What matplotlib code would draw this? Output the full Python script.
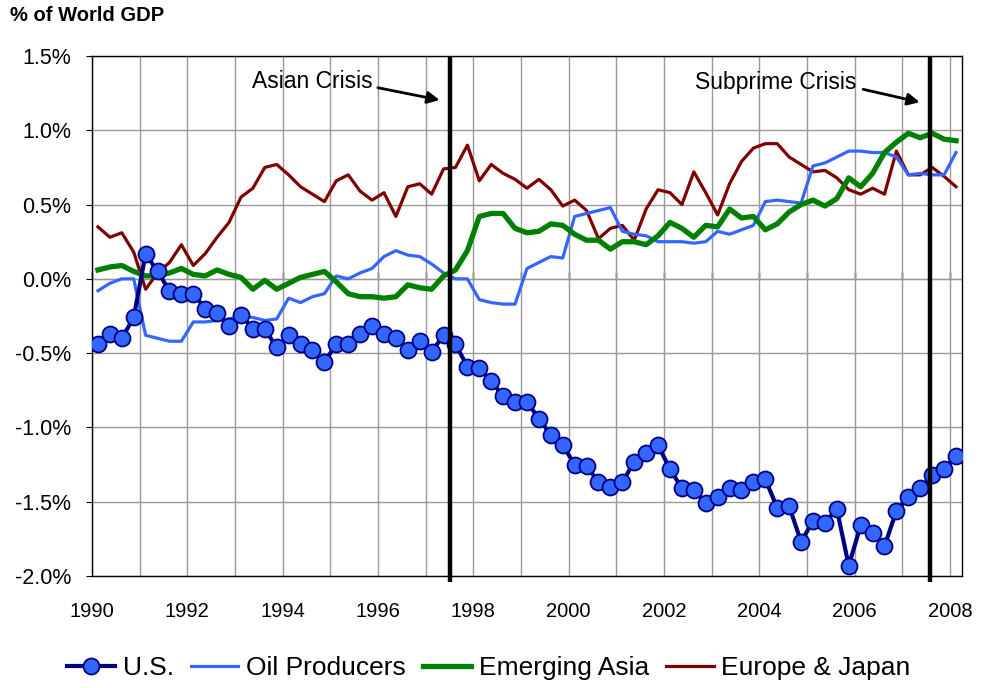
import matplotlib
matplotlib.use("Agg")
import matplotlib.pyplot as plt
import numpy as np
import pandas as pd

plt.rcParams["font.family"] = ["Liberation Sans", "DejaVu Sans"]

# ---------------------------------------------------------------------------
# Data: quarterly current account balances, % of world GDP (1990Q1 - 2008Q1)
# ---------------------------------------------------------------------------
quarters = pd.period_range("1990Q1", "2008Q1", freq="Q")

us = [
    -0.44, -0.37, -0.40, -0.26, 0.17, 0.05, -0.08, -0.10, -0.10, -0.20,
    -0.23, -0.32, -0.24, -0.34, -0.34, -0.46, -0.38, -0.44, -0.48, -0.56,
    -0.44, -0.44, -0.37, -0.32, -0.37, -0.40, -0.48, -0.42, -0.49, -0.38,
    -0.44, -0.59, -0.60, -0.69, -0.79, -0.83, -0.83, -0.94, -1.05, -1.12,
    -1.25, -1.26, -1.37, -1.40, -1.37, -1.23, -1.17, -1.12, -1.28, -1.41,
    -1.42, -1.51, -1.47, -1.41, -1.42, -1.37, -1.35, -1.54, -1.53, -1.77,
    -1.63, -1.64, -1.55, -1.93, -1.66, -1.71, -1.80, -1.56, -1.47, -1.41,
    -1.32, -1.28, -1.19,
]

oil_producers = [
    -0.08, -0.03, 0.00, 0.00, -0.38, -0.40, -0.42, -0.42, -0.29, -0.29,
    -0.28, -0.27, -0.25, -0.26, -0.28, -0.27, -0.13, -0.16, -0.12, -0.10,
    0.02, 0.00, 0.04, 0.07, 0.15, 0.19, 0.16, 0.15, 0.10, 0.04,
    0.00, 0.00, -0.14, -0.16, -0.17, -0.17, 0.07, 0.11, 0.15, 0.14,
    0.42, 0.44, 0.46, 0.48, 0.32, 0.30, 0.29, 0.25, 0.25, 0.25,
    0.24, 0.25, 0.32, 0.30, 0.33, 0.36, 0.52, 0.53, 0.52, 0.51,
    0.76, 0.78, 0.82, 0.86, 0.86, 0.85, 0.85, 0.82, 0.70, 0.71,
    0.70, 0.70, 0.85,
]

emerging_asia = [
    0.06, 0.08, 0.09, 0.05, 0.02, 0.02, 0.04, 0.07, 0.03, 0.02,
    0.06, 0.03, 0.01, -0.07, -0.01, -0.07, -0.03, 0.01, 0.03, 0.05,
    -0.02, -0.10, -0.12, -0.12, -0.13, -0.12, -0.04, -0.06, -0.07, 0.02,
    0.06, 0.19, 0.42, 0.44, 0.44, 0.34, 0.31, 0.32, 0.37, 0.36,
    0.30, 0.26, 0.26, 0.20, 0.25, 0.25, 0.23, 0.29, 0.38, 0.34,
    0.28, 0.36, 0.35, 0.47, 0.41, 0.42, 0.33, 0.37, 0.45, 0.50,
    0.53, 0.49, 0.54, 0.68, 0.62, 0.71, 0.85, 0.92, 0.98, 0.95,
    0.98, 0.94, 0.93,
]

europe_japan = [
    0.35, 0.28, 0.31, 0.18, -0.07, 0.04, 0.11, 0.23, 0.09, 0.17,
    0.28, 0.38, 0.55, 0.61, 0.75, 0.77, 0.70, 0.62, 0.57, 0.52,
    0.66, 0.70, 0.59, 0.53, 0.58, 0.42, 0.62, 0.64, 0.57, 0.74,
    0.75, 0.90, 0.66, 0.77, 0.71, 0.67, 0.61, 0.67, 0.60, 0.49,
    0.53, 0.46, 0.27, 0.34, 0.36, 0.26, 0.47, 0.60, 0.58, 0.50,
    0.72, 0.58, 0.43, 0.64, 0.79, 0.88, 0.91, 0.91, 0.82, 0.77,
    0.72, 0.73, 0.68, 0.60, 0.57, 0.61, 0.57, 0.86, 0.70, 0.70,
    0.75, 0.69, 0.62,
]

crisis_dates = [1997.5, 2007.58]
crisis_labels = ["Asian Crisis", "Subprime Crisis"]

year_labels = list(range(1990, 2009, 2))
y_ticks = [1.5, 1.0, 0.5, 0.0, -0.5, -1.0, -1.5, -2.0]

# quarter mid-points on a year axis (Excel category axis style)
x = np.array([q.year + (q.quarter - 0.5) / 4 for q in quarters])

# ---------------------------------------------------------------------------
# Plot
# ---------------------------------------------------------------------------
fig = plt.figure(figsize=(9.84, 6.88), dpi=100)
ax = fig.add_axes([0.0935, 0.1628, 0.8841, 0.7558])

ymin, ymax = -2.0, 1.5
ax.set_xlim(1990, 2008.25)
ax.set_ylim(ymin, ymax)

ax.plot(x, europe_japan, color="#800000", lw=2.3, zorder=3, label="Europe & Japan")
ax.plot(x, oil_producers, color="#3366FF", lw=2.3, zorder=4, label="Oil Producers")
ax.plot(x, emerging_asia, color="#008000", lw=3.8, zorder=5, label="Emerging Asia")
ax.plot(
    x, us, color="#000080", lw=3.0, marker="o", markersize=11.5,
    markerfacecolor="#3366FF", markeredgecolor="#000080", markeredgewidth=1.3,
    zorder=6, label="U.S.",
)

# crisis markers
ax.vlines(crisis_dates, ymin - 0.04, ymax, color="black", lw=3.2,
          zorder=7, clip_on=False)
ax.text(1993.36, 1.33, crisis_labels[0], fontsize=16.5, va="center", ha="left",
        zorder=8)
ax.annotate("", xy=(1997.35, 1.20), xytext=(1995.94, 1.29),
            arrowprops=dict(arrowstyle="-|>", color="black", lw=2,
                            mutation_scale=18), zorder=8)
ax.text(2002.66, 1.32, crisis_labels[1], fontsize=16.5, va="center", ha="left",
        zorder=8)
ax.annotate("", xy=(2007.42, 1.185), xytext=(2006.12, 1.28),
            arrowprops=dict(arrowstyle="-|>", color="black", lw=2,
                            mutation_scale=18), zorder=8)

# axes / grid
ax.set_xticks(year_labels)
ax.set_xticklabels([str(y) for y in year_labels])
ax.set_xticks(range(1990, 2009), minor=True)
ax.set_yticks(y_ticks)
ax.set_yticklabels([f"{v:.1f}%" for v in y_ticks])
ax.tick_params(axis="x", which="both", length=0, pad=19, labelsize=14.5)
ax.tick_params(axis="y", length=4, direction="out", pad=11, labelsize=15.5)
ax.grid(True, which="both", color="#999999", lw=1.0, zorder=0)
ax.set_axisbelow(True)
for side in ["left", "bottom", "top", "right"]:
    ax.spines[side].set_color("black")
    ax.spines[side].set_linewidth(1.0)

# horizontal axis line crossing at 0 with year tick marks
zero_pos = (0 - ymin) / (ymax - ymin)
sec = ax.secondary_xaxis(zero_pos)
sec.set_xticks(range(1990, 2009))
sec.set_xticklabels([])
sec.tick_params(direction="out", length=5, width=1, color="black")
sec.spines["bottom"].set_color("black")

fig.text(0.01, 0.977, "% of World GDP", fontsize=14.5, fontweight="bold",
         va="center", ha="left")

handles, labels = ax.get_legend_handles_labels()
order = [3, 1, 2, 0]
fig.legend([handles[i] for i in order], [labels[i] for i in order],
           loc="center", bbox_to_anchor=(0.497, 0.029), ncol=4, frameon=False,
           fontsize=19, handlelength=1.8, columnspacing=0.65,
           handletextpad=0.3, borderaxespad=0)

fig.savefig("out.png", dpi=100)
